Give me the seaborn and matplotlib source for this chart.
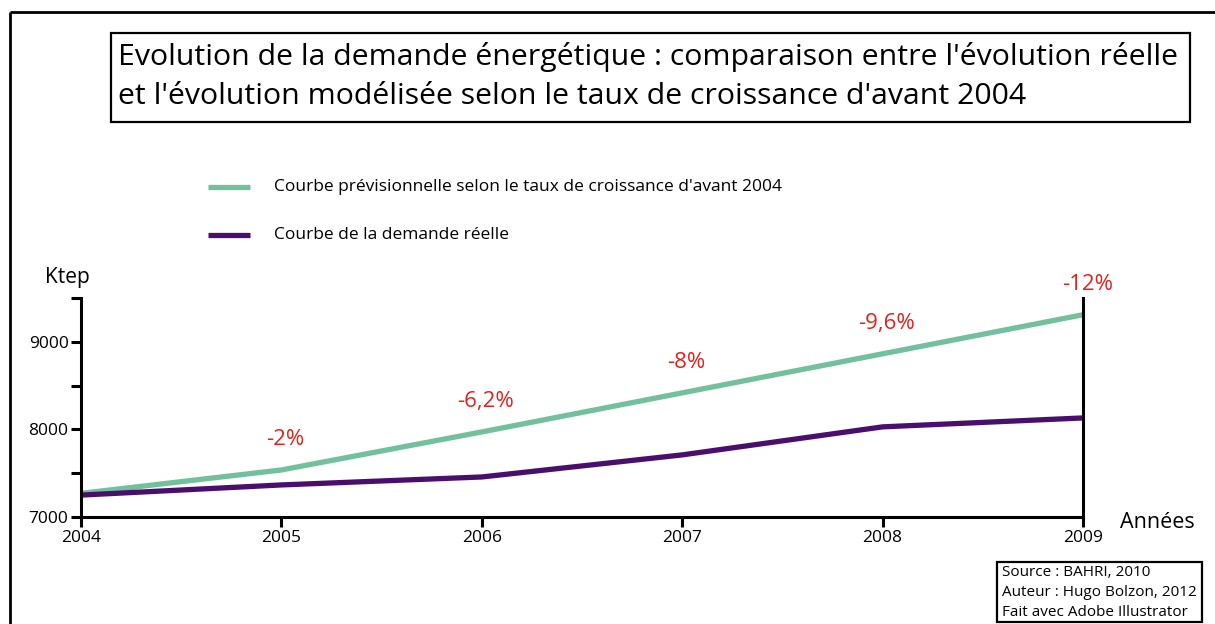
import pandas as pd
import seaborn as sns
import matplotlib.pyplot as plt
from matplotlib.lines import Line2D
from matplotlib.patches import Rectangle
from matplotlib.ticker import MultipleLocator

# Data (Ktep)
years = [2004, 2005, 2006, 2007, 2008, 2009]
prevision = [7270, 7537, 7971, 8417, 8863, 9309]
reelle = [7250, 7366, 7457, 7709, 8029, 8131]
ecarts = ["", "-2%", "-6,2%", "-8%", "-9,6%", "-12%"]

label_prev = "Courbe prévisionnelle selon le taux de croissance d'avant 2004"
label_reel = "Courbe de la demande réelle"

green = "#72c09c"
purple = "#4a0f6e"
red = "#e0231c"

sns.set_theme(style="white")
plt.rcParams['font.family'] = ['Open Sans', 'DejaVu Sans']
plt.rcParams['text.color'] = 'black'
plt.rcParams['lines.solid_capstyle'] = 'butt'

df = pd.DataFrame({
    "annee": years * 2,
    "valeur": prevision + reelle,
    "courbe": [label_prev] * len(years) + [label_reel] * len(years),
})

fig = plt.figure(figsize=(12.15, 6.24), dpi=100)
ax = fig.add_axes([81 / 1215, 1 - 517 / 624, (1083 - 81) / 1215, (517 - 298) / 624])

sns.lineplot(data=df, x="annee", y="valeur", hue="courbe",
             palette={label_prev: green, label_reel: purple},
             linewidth=3.8, ax=ax, legend=False)

ax.set_xlim(2004, 2009)
ax.set_ylim(7000, 9500)
ax.set_xticks(years)
ax.set_xticklabels([str(y) for y in years])
ax.set_yticks([7000, 8000, 9000])
ax.yaxis.set_minor_locator(MultipleLocator(500))
ax.set_xlabel("")
ax.set_ylabel("")
ax.tick_params(axis="both", which="both", direction="out", length=7, width=2.2,
               labelsize=12.5, colors="black", left=True, bottom=True)
ax.tick_params(axis="x", pad=2)
ax.tick_params(axis="y", pad=2)
for side in ["left", "bottom", "right"]:
    ax.spines[side].set_visible(True)
    ax.spines[side].set_color("black")
    ax.spines[side].set_linewidth(2.2)
ax.spines["top"].set_visible(False)

# percentage gaps above the forecast curve
for x, y, t in zip(years, prevision, ecarts):
    if t:
        ax.annotate(t, (x, y), xytext=(3, 22), textcoords="offset points",
                    ha="center", va="center", color=red, fontsize=16,
                    annotation_clip=False)

fig.text(45 / 1215, 1 - 277 / 624, "Ktep", fontsize=15, va="center", ha="left")
fig.text(1120 / 1215, 1 - 522 / 624, "Années", fontsize=15.5, va="center", ha="left")

# legend drawn by hand like the original
for yy, col, lab in [(187, green, label_prev), (235, purple, label_reel)]:
    fig.add_artist(Line2D([208 / 1215, 250 / 1215], [1 - yy / 624] * 2,
                          color=col, linewidth=3.8))
    fig.text(274 / 1215, 1 - yy / 624, lab, fontsize=12.5, va="center", ha="left")

# title box
fig.add_artist(Rectangle((111 / 1215, 1 - 122 / 624), (1190 - 111) / 1215, 89 / 624,
                         transform=fig.transFigure, fill=False, edgecolor="black",
                         linewidth=1.6))
fig.text(118 / 1215, 1 - 57 / 624,
         "Evolution de la demande énergétique : comparaison entre l'évolution réelle",
         fontsize=21.8, va="center", ha="left")
fig.text(118 / 1215, 1 - 97 / 624,
         "et l'évolution modélisée selon le taux de croissance d'avant 2004",
         fontsize=21.8, va="center", ha="left")

# source box
fig.add_artist(Rectangle((997 / 1215, 1 - 622 / 624), (1202 - 997) / 1215, 60 / 624,
                         transform=fig.transFigure, fill=False, edgecolor="black",
                         linewidth=1.6))
for yy, t in [(573, "Source : BAHRI, 2010"), (593, "Auteur : Hugo Bolzon, 2012"),
              (612, "Fait avec Adobe Illustrator")]:
    fig.text(1002 / 1215, 1 - yy / 624, t, fontsize=11, va="center", ha="left")

# outer frame (top and left edges)
fig.add_artist(Line2D([10 / 1215, 1], [1 - 12 / 624] * 2, color="black", linewidth=2))
fig.add_artist(Line2D([10 / 1215] * 2, [0, 1 - 12 / 624], color="black", linewidth=2))

fig.savefig("out.png", dpi=100)
